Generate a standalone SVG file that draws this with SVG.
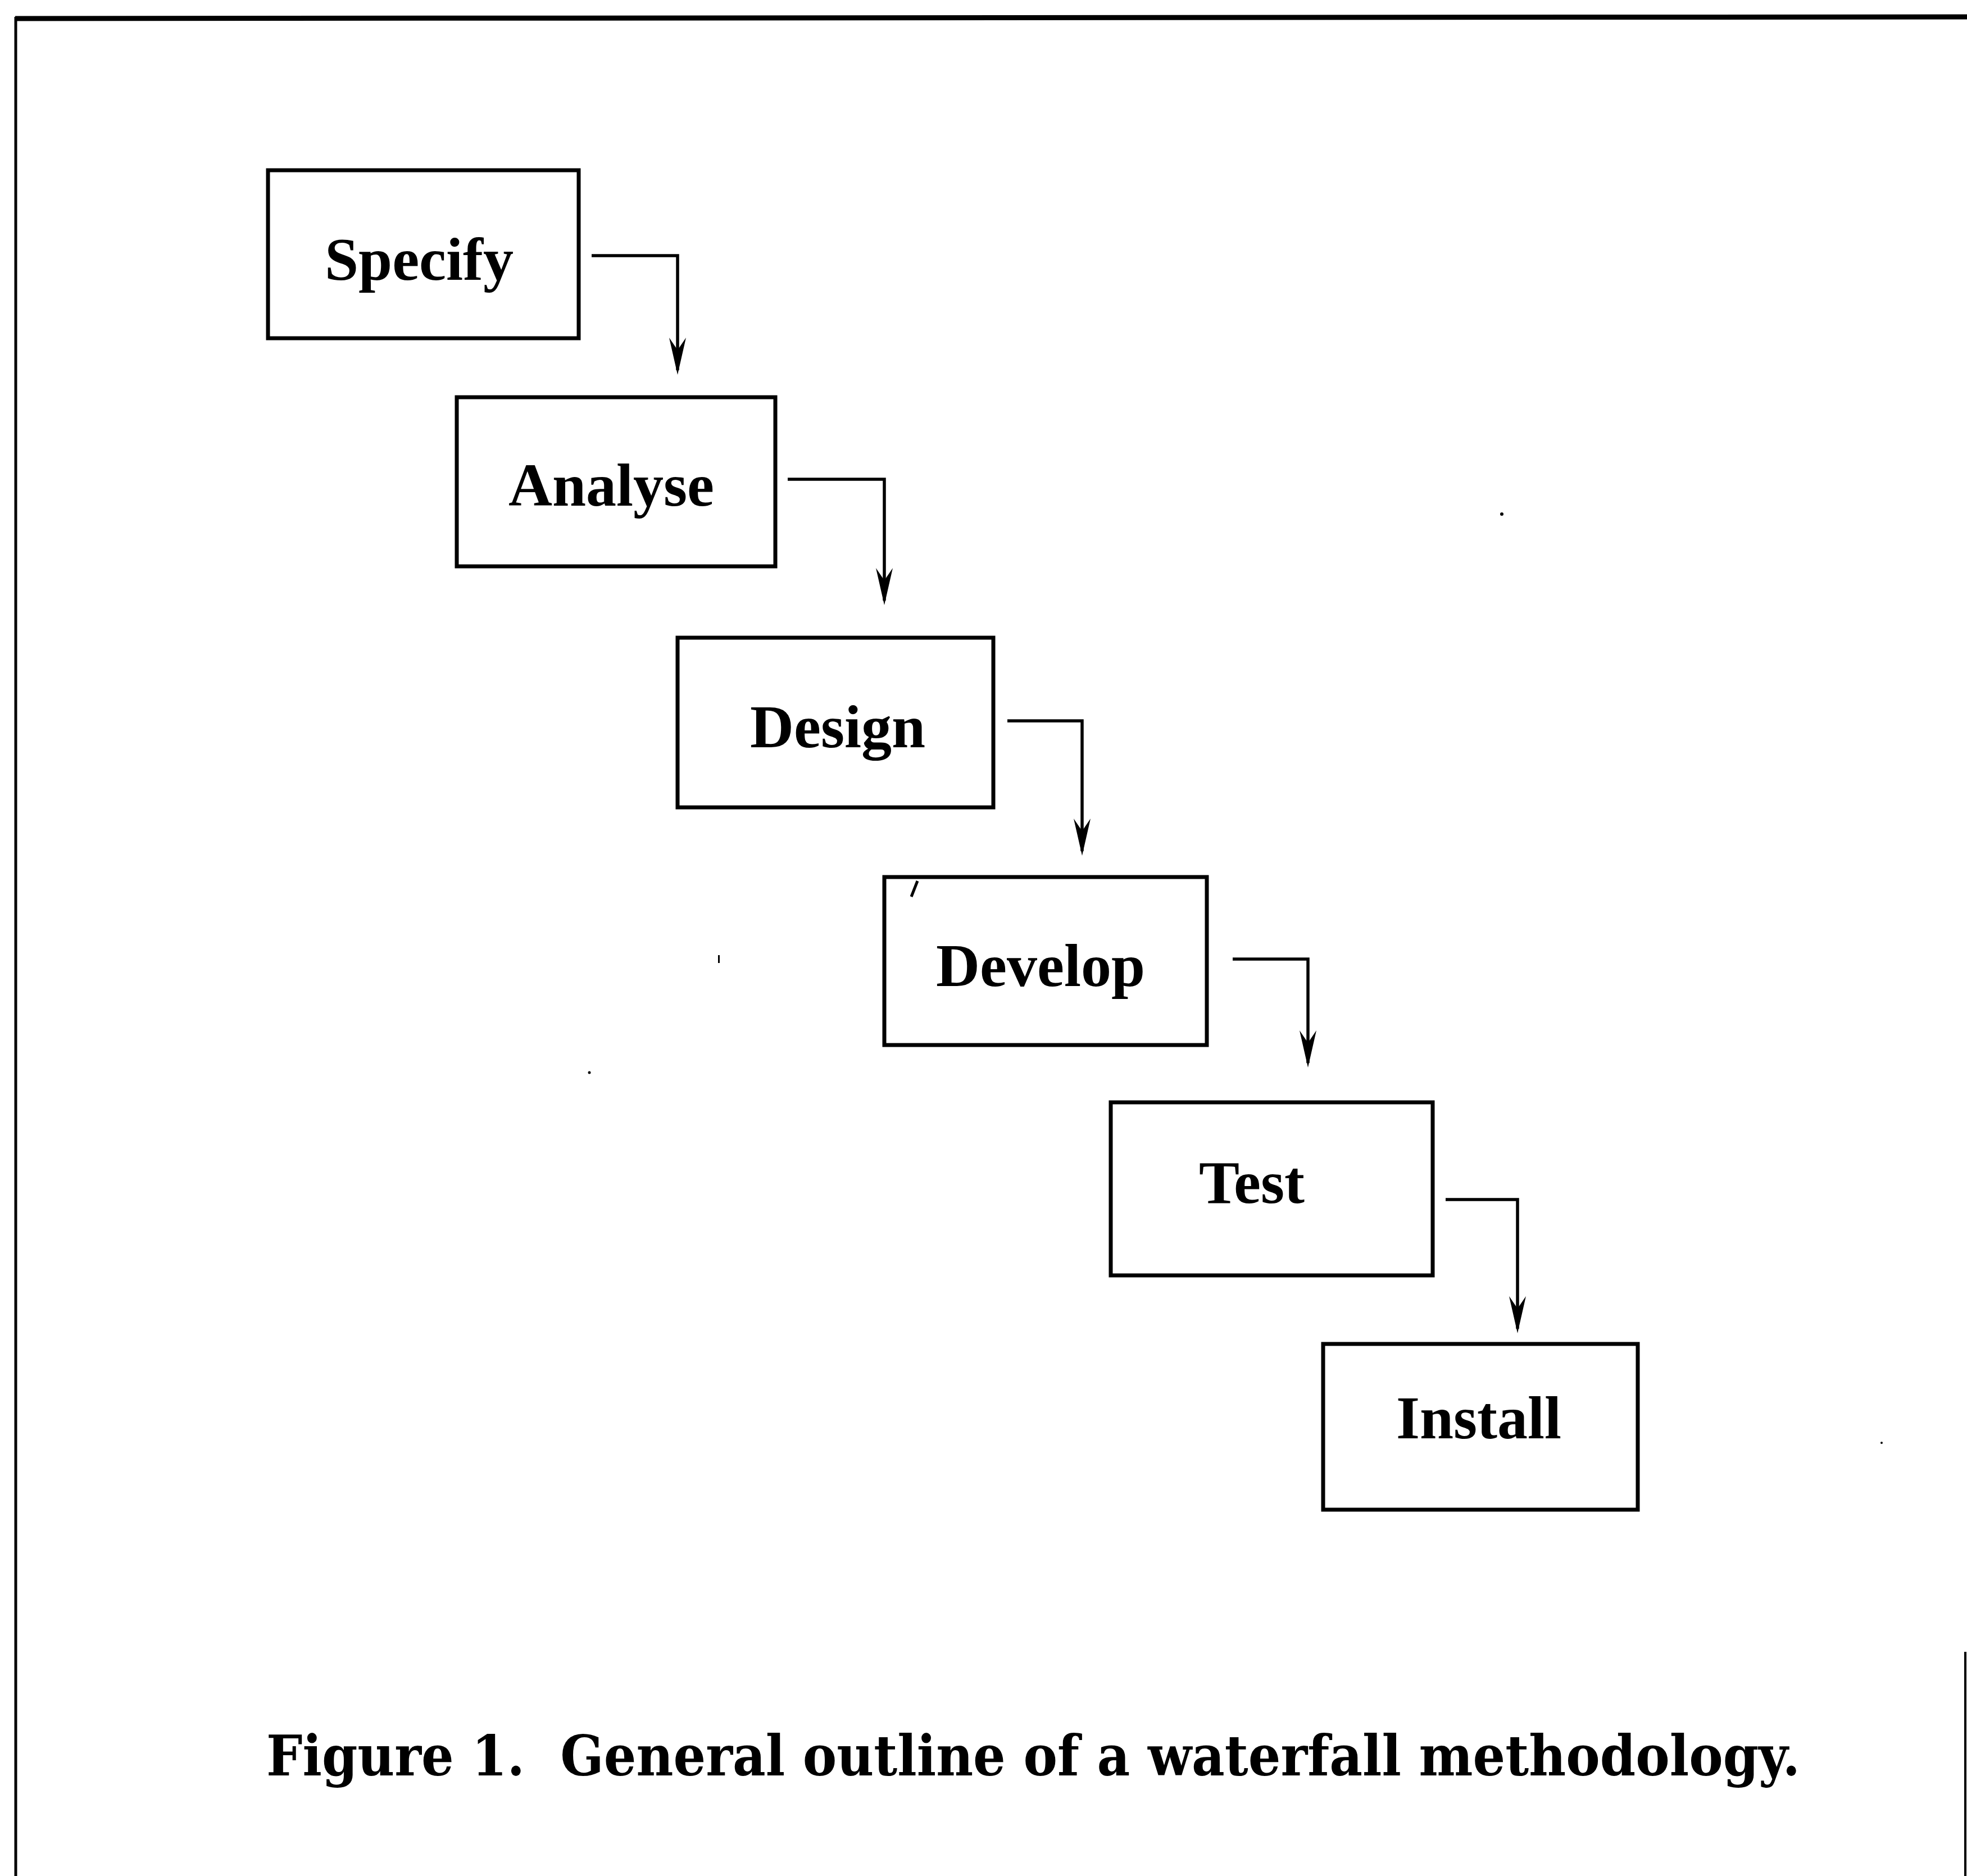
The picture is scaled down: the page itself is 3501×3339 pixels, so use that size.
<svg xmlns="http://www.w3.org/2000/svg" width="3501" height="3339" viewBox="0 0 3501 3339">
<style>
.box{fill:#fff;stroke:#000;stroke-width:7}
.lbl{font-family:"Liberation Serif","Times New Roman",serif;font-weight:bold;font-size:108px;fill:#000;text-anchor:middle}
.cap{font-family:"DejaVu Serif",serif;font-weight:bold;font-size:100px;fill:#000}
.conn{fill:none;stroke:#000;stroke-width:5.5;marker-end:url(#arr)}
.frame{stroke:#000;fill:none}
</style>
<defs>
<marker id="arr" markerUnits="userSpaceOnUse" markerWidth="80" markerHeight="40" viewBox="-70 -20 80 40" refX="0" refY="0" orient="auto">
<path d="M8,0 L-58,-15 L-36,0 L-58,15 Z" fill="#000"/>
</marker>
</defs>
<rect width="3501" height="3339" fill="#fff"/>
<g id="frame">
<line class="frame" x1="27" y1="33" x2="3501" y2="30" stroke-width="9"/>
<line class="frame" x1="28" y1="30" x2="28" y2="3339" stroke-width="5"/>
<line class="frame" x1="3498" y1="2940" x2="3498" y2="3339" stroke-width="4"/>
</g>
<g id="node-specify">
<rect class="box" x="477" y="303" width="553" height="299"/>
<text class="lbl" x="746" y="498">Specify</text>
</g>
<g id="node-analyse">
<rect class="box" x="813" y="707" width="567" height="301"/>
<text class="lbl" x="1088" y="900">Analyse</text>
</g>
<g id="node-design">
<rect class="box" x="1206" y="1135" width="562" height="302"/>
<text class="lbl" x="1491" y="1330">Design</text>
</g>
<g id="node-develop">
<rect class="box" x="1574" y="1561" width="574" height="299"/>
<text class="lbl" x="1852" y="1755">Develop</text>
<line x1="1633" y1="1568" x2="1622" y2="1596" stroke="#000" stroke-width="5"/>
</g>
<g id="node-test">
<rect class="box" x="1977" y="1962" width="573" height="308"/>
<text class="lbl" x="2228" y="2141">Test</text>
</g>
<g id="node-install">
<rect class="box" x="2355" y="2392" width="560" height="295"/>
<text class="lbl" x="2632" y="2560">Install</text>
</g>
<g id="connectors">
<path class="conn" d="M1053,455 H1206 V659"/>
<path class="conn" d="M1402,853 H1574 V1069"/>
<path class="conn" d="M1793,1283 H1926 V1515"/>
<path class="conn" d="M2194,1707 H2328 V1892"/>
<path class="conn" d="M2573,2135 H2701 V2365"/>
</g>
<g id="caption">
<text class="cap" x="474" y="3160" textLength="2730" lengthAdjust="spacingAndGlyphs">Figure 1.&#160; General outline of a waterfall methodology.</text>
</g>
<g id="specks" fill="#000">
<circle cx="2673" cy="915" r="3"/>
<rect x="1278" y="1700" width="3" height="14"/>
<circle cx="1049" cy="1909" r="2.5"/>
<circle cx="3349" cy="2568" r="2"/>
</g>
</svg>
